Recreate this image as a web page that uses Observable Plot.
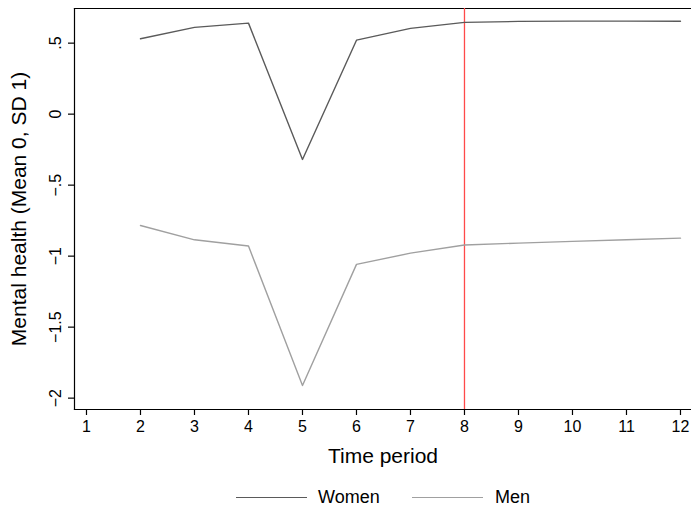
<!DOCTYPE html>
<html>
<head>
<meta charset="utf-8">
<script src="https://cdn.jsdelivr.net/npm/d3@7"></script>
<script src="https://cdn.jsdelivr.net/npm/@observablehq/plot@0.6"></script>
<style>
  body { margin: 0; background: #fff; font-family: "Liberation Sans", Arial, sans-serif; }
  #chart { width: 691px; }
  svg [aria-label="x-axis tick label"], svg [aria-label="x-axis tick label"] text,
  svg [aria-label="y-axis tick label"], svg [aria-label="y-axis tick label"] text { font-size: 16px !important; fill: #000; }
  svg [aria-label="x-axis label"], svg [aria-label="x-axis label"] text,
  svg [aria-label="y-axis label"], svg [aria-label="y-axis label"] text { font-size: 21px !important; fill: #000; }
  .legend { position: relative; height: 34px; width: 691px; }
  .legend .sw { position: absolute; top: 22px; height: 0; border-top: 1.5px solid; width: 71px; }
  .legend .lb { position: absolute; top: 12px; font-size: 18px; color: #000; line-height: 20px; }
</style>
</head>
<body>
<div id="chart"></div>
<script>
const periods = [2, 3, 4, 5, 6, 7, 8, 9, 10, 11, 12];
const women = [0.531, 0.611, 0.641, -0.319, 0.521, 0.604, 0.646, 0.653, 0.655, 0.655, 0.654];
const men = [-0.784, -0.885, -0.929, -1.911, -1.058, -0.979, -0.922, -0.908, -0.896, -0.885, -0.873];
const seriesNames = ["Women", "Men"];
const seriesColors = ["#5a5a5a", "#a0a0a0"];
const xTicks = [1, 2, 3, 4, 5, 6, 7, 8, 9, 10, 11, 12];
const yTicks = [0.5, 0, -0.5, -1, -1.5, -2];
const refPeriod = 8;

const rows = [];
periods.forEach((p, i) => {
  rows.push({period: p, value: women[i], series: seriesNames[0]});
  rows.push({period: p, value: men[i], series: seriesNames[1]});
});

const fmt = d => d === 0 ? "0" : (d < 0 ? "\u2212" : "") + String(Math.abs(d)).replace(/^0\./, ".");

const chart = Plot.plot({
  width: 691,
  height: 475,
  marginTop: 8,
  marginLeft: 74,
  marginRight: 0,
  marginBottom: 66,
  style: {fontFamily: "'Liberation Sans', Arial, sans-serif", fontSize: "16px", background: "#fff", color: "#000"},
  x: {domain: [0.778, 12.204]},
  y: {domain: [-2.08, 0.744]},
  color: {domain: seriesNames, range: seriesColors},
  marks: [
    Plot.frame({anchor: "top", stroke: "#000", strokeWidth: 1.2}),
    Plot.frame({anchor: "left", stroke: "#000", strokeWidth: 1.2}),
    Plot.frame({anchor: "bottom", stroke: "#000", strokeWidth: 1.2}),
    Plot.axisX({ticks: xTicks, tickSize: 6, tickPadding: 5, label: "Time period", labelAnchor: "center", labelArrow: "none", labelOffset: 53, stroke: "#000", strokeWidth: 1.2}),
    Plot.axisY({ticks: yTicks, tickFormat: fmt, tickSize: 6, tickRotate: -90, tickPadding: 8, label: "Mental health (Mean 0, SD 1)", labelAnchor: "center", labelArrow: "none", labelOffset: 63, stroke: "#000", strokeWidth: 1.2}),
    Plot.ruleX([refPeriod], {stroke: "#ff4a4a", strokeWidth: 1.3}),
    Plot.line(rows, {x: "period", y: "value", z: "series", stroke: "series", strokeWidth: 1.4})
  ]
});
document.getElementById("chart").appendChild(chart);

const legend = document.createElement("div");
legend.className = "legend";
const pos = [[236, 318], [412, 495]];
seriesNames.forEach((name, i) => {
  const sw = document.createElement("div");
  sw.className = "sw";
  sw.style.left = pos[i][0] + "px";
  sw.style.borderColor = seriesColors[i];
  legend.appendChild(sw);
  const lb = document.createElement("div");
  lb.className = "lb";
  lb.style.left = pos[i][1] + "px";
  lb.textContent = name;
  legend.appendChild(lb);
});
document.getElementById("chart").appendChild(legend);
</script>
</body>
</html>
